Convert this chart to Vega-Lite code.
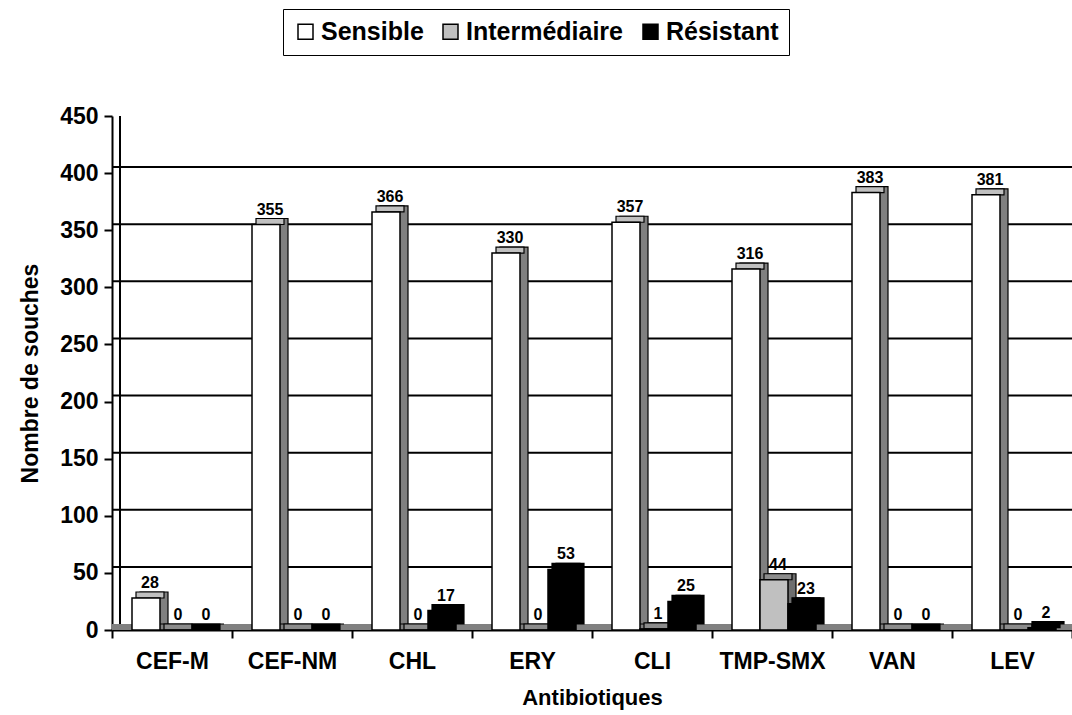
{
  "$schema": "https://vega.github.io/schema/vega-lite/v6.json",
  "width": 960,
  "height": 514,
  "padding": {"left": 19, "top": 8, "right": 0, "bottom": 2},
  "config": {
    "font": "Liberation Sans",
    "view": {"stroke": null},
    "axis": {"labelFont": "Liberation Sans", "titleFont": "Liberation Sans"}
  },
  "resolve": {"scale": {"xOffset": "independent", "fill": "independent"}},
  "datasets": {
    "bars": [
      {"antibiotique": "CEF-M", "categorie": "Sensible", "n": 28},
      {"antibiotique": "CEF-M", "categorie": "Intermédiaire", "n": 0},
      {"antibiotique": "CEF-M", "categorie": "Résistant", "n": 0},
      {"antibiotique": "CEF-NM", "categorie": "Sensible", "n": 355},
      {"antibiotique": "CEF-NM", "categorie": "Intermédiaire", "n": 0},
      {"antibiotique": "CEF-NM", "categorie": "Résistant", "n": 0},
      {"antibiotique": "CHL", "categorie": "Sensible", "n": 366},
      {"antibiotique": "CHL", "categorie": "Intermédiaire", "n": 0},
      {"antibiotique": "CHL", "categorie": "Résistant", "n": 17},
      {"antibiotique": "ERY", "categorie": "Sensible", "n": 330},
      {"antibiotique": "ERY", "categorie": "Intermédiaire", "n": 0},
      {"antibiotique": "ERY", "categorie": "Résistant", "n": 53},
      {"antibiotique": "CLI", "categorie": "Sensible", "n": 357},
      {"antibiotique": "CLI", "categorie": "Intermédiaire", "n": 1},
      {"antibiotique": "CLI", "categorie": "Résistant", "n": 25},
      {"antibiotique": "TMP-SMX", "categorie": "Sensible", "n": 316},
      {"antibiotique": "TMP-SMX", "categorie": "Intermédiaire", "n": 44},
      {"antibiotique": "TMP-SMX", "categorie": "Résistant", "n": 23},
      {"antibiotique": "VAN", "categorie": "Sensible", "n": 383},
      {"antibiotique": "VAN", "categorie": "Intermédiaire", "n": 0},
      {"antibiotique": "VAN", "categorie": "Résistant", "n": 0},
      {"antibiotique": "LEV", "categorie": "Sensible", "n": 381},
      {"antibiotique": "LEV", "categorie": "Intermédiaire", "n": 0},
      {"antibiotique": "LEV", "categorie": "Résistant", "n": 2}
    ],
    "grid": [
      {"v": 50}, {"v": 100}, {"v": 150}, {"v": 200}, {"v": 250},
      {"v": 300}, {"v": 350}, {"v": 400}, {"v": 450}
    ],
    "wall": [{"ab": "CEF-M", "lo": 0, "hi": 450}],
    "floor": [{"v": 0}]
  },
  "layer": [
    {
      "data": {"name": "grid"},
      "mark": {"type": "rule", "color": "black", "strokeWidth": 2, "yOffset": -6, "xOffset": 8, "clip": true},
      "encoding": {
        "y": {"field": "v", "type": "quantitative", "scale": {"domain": [0, 450]}}
      }
    },
    {
      "data": {"name": "floor"},
      "mark": {"type": "rule", "color": "#808080", "strokeWidth": 6, "yOffset": -3, "clip": true},
      "encoding": {
        "y": {"field": "v", "type": "quantitative"}
      }
    },
    {
      "data": {"name": "wall"},
      "mark": {"type": "rule", "color": "black", "strokeWidth": 2, "xOffset": 8, "yOffset": -6},
      "encoding": {
        "x": {"field": "ab", "type": "nominal", "bandPosition": 0, "sort": null},
        "y": {"field": "lo", "type": "quantitative"},
        "y2": {"field": "hi"}
      }
    },
    {
      "data": {"name": "bars"},
      "mark": {"type": "bar", "stroke": "black", "strokeWidth": 1.2, "yOffset": -6},
      "encoding": {
        "x": {"field": "antibiotique", "type": "nominal", "sort": null,
              "scale": {"domain": ["CEF-M", "CEF-NM", "CHL", "ERY", "CLI", "TMP-SMX", "VAN", "LEV"], "paddingInner": 0, "paddingOuter": 0}},
        "xOffset": {"field": "categorie", "sort": ["Sensible", "Intermédiaire", "Résistant"],
                    "scale": {"range": [28, 112], "paddingInner": 0, "paddingOuter": 0}},
        "y": {"field": "n", "type": "quantitative"},
        "fill": {"field": "categorie", "type": "nominal", "legend": null,
                 "scale": {"domain": ["Sensible", "Intermédiaire", "Résistant"], "range": ["#808080", "#6e6e6e", "#000000"]}}
      }
    },
    {
      "data": {"name": "bars"},
      "mark": {"type": "bar", "stroke": "black", "strokeWidth": 1.2, "yOffset": -6, "y2Offset": 0},
      "encoding": {
        "x": {"field": "antibiotique", "type": "nominal", "sort": null},
        "xOffset": {"field": "categorie", "sort": ["Sensible", "Intermédiaire", "Résistant"],
                    "scale": {"range": [24, 108], "paddingInner": 0, "paddingOuter": 0}},
        "y": {"field": "n", "type": "quantitative"},
        "y2": {"field": "n"},
        "fill": {"field": "categorie", "type": "nominal", "legend": null,
                 "scale": {"domain": ["Sensible", "Intermédiaire", "Résistant"], "range": ["#c0c0c0", "#8c8c8c", "#000000"]}}
      }
    },
    {
      "data": {"name": "bars"},
      "mark": {"type": "bar", "stroke": "black", "strokeWidth": 1.5},
      "encoding": {
        "x": {"field": "antibiotique", "type": "nominal", "sort": null,
              "axis": {"title": "Antibiotiques", "labelAngle": 0, "labelAlign": "center", "labelFontSize": 23, "labelFontWeight": "bold",
                       "labelColor": "black", "titleFontSize": 22, "titleFontWeight": "bold", "titleColor": "black",
                       "domainColor": "black", "domainWidth": 2, "tickColor": "black", "tickWidth": 2, "tickSize": 8,
                       "tickBand": "extent", "labelPadding": 23, "titlePadding": 14}},
        "xOffset": {"field": "categorie", "sort": ["Sensible", "Intermédiaire", "Résistant"],
                    "scale": {"range": [20, 104], "paddingInner": 0, "paddingOuter": 0}},
        "y": {"field": "n", "type": "quantitative",
              "axis": {"title": "Nombre de souches", "values": [0, 50, 100, 150, 200, 250, 300, 350, 400, 450],
                       "grid": false, "labelFontSize": 23, "labelFontWeight": "bold", "labelColor": "black",
                       "titleFontSize": 23, "titleFontWeight": "bold", "titleColor": "black",
                       "domainColor": "black", "domainWidth": 2, "tickColor": "black", "tickWidth": 2, "tickSize": 8,
                       "labelPadding": 6, "titlePadding": 17}},
        "color": {"field": "categorie", "type": "nominal",
                  "sort": ["Sensible", "Intermédiaire", "Résistant"],
                  "scale": {"domain": ["Sensible", "Intermédiaire", "Résistant"], "range": ["#ffffff", "#c0c0c0", "#000000"]},
                  "legend": {"title": null, "orient": "none", "direction": "horizontal", "legendX": 171, "legendY": -107,
                             "symbolType": "square", "symbolSize": 225, "symbolStrokeColor": "black", "symbolStrokeWidth": 1.5,
                             "labelFontSize": 25, "labelFontWeight": "bold", "labelColor": "black", "columnPadding": 14,
                             "strokeColor": "black", "padding": 10, "labelOffset": 3}}
      }
    },
    {
      "data": {"name": "bars"},
      "mark": {"type": "text", "baseline": "alphabetic", "fontSize": 16, "fontWeight": "bold", "color": "black", "dx": 4, "yOffset": -10},
      "encoding": {
        "x": {"field": "antibiotique", "type": "nominal", "sort": null},
        "xOffset": {"field": "categorie", "sort": ["Sensible", "Intermédiaire", "Résistant"],
                    "scale": {"type": "band", "range": [20, 104], "paddingInner": 0, "paddingOuter": 0}},
        "y": {"field": "n", "type": "quantitative"},
        "text": {"field": "n", "type": "quantitative"}
      }
    }
  ]
}
